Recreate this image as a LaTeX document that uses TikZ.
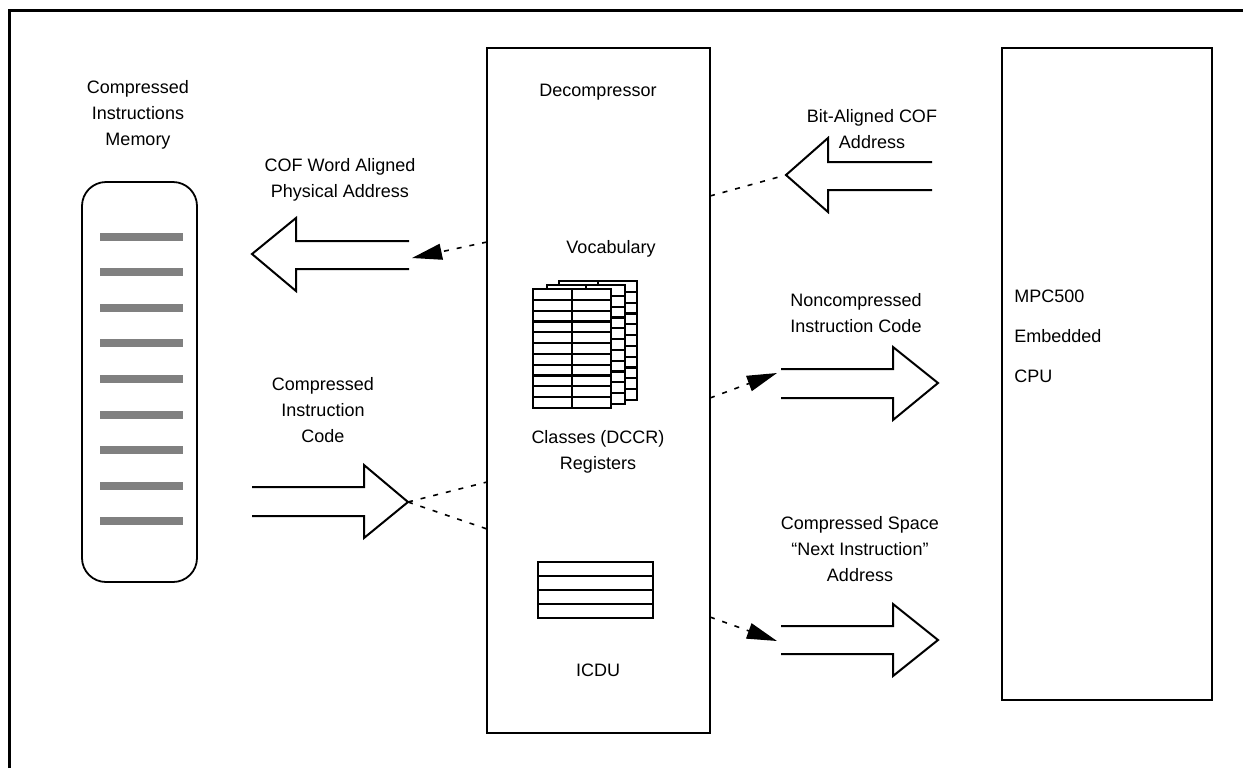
\documentclass[tikz,border=0pt]{standalone}
\usepackage{fontspec}
\setmainfont{Liberation Sans}
\usetikzlibrary{arrows.meta,fit}
\begin{document}
\begin{tikzpicture}[x=0.5pt,y=-0.5pt,
  lbl/.style={font=\fontsize{9}{13}\selectfont, align=center, inner sep=0pt},
  box/.style={draw, line width=0.9pt, inner sep=0pt},
  blockarrow/.style={draw, line width=1pt, line join=miter},
  dotcon/.style={line width=0.8pt, dash pattern=on 2.5pt off 4pt},
  tipped/.style={-{Triangle[length=15pt,width=8pt]}},
  sheet/.style={draw, fill=white, line width=1.1pt},
  bar/.style={fill=gray}]
\useasboundingbox (0,0) rectangle (1243,768);
% frame (top and left visible)
\draw[line width=1.6pt] (9.5,768) -- (9.5,10.5) -- (1243,10.5);

% memory
\node[box, rounded corners=12pt, fit={(82,182) (197,582)}] (mem) {};
\foreach \k in {0,...,8}{
  \fill[bar] (100,{232.5+35.6*\k}) rectangle (183,{240.5+35.6*\k});
}
\node[lbl] (memlbl) at (138,115) {Compressed\\Instructions\\Memory};

% decompressor
\node[box, fit={(487,48) (710,733)}] (dec) {};
\node[lbl] (declbl) at (598,92) {Decompressor};
\node[lbl] (voclbl) at (611,249) {Vocabulary};
\node[lbl] (clslbl) at (598,452) {Classes (DCCR)\\Registers};
\node[lbl] (icdulbl) at (598,670) {ICDU};

% vocabulary sheets
\foreach \sx/\sy in {559/281, 547/285, 533/289}{
  \draw[sheet] (\sx,\sy) rectangle ({\sx+78},{\sy+119});
  \foreach \r in {1,...,10}{
    \draw[line width=1.1pt] (\sx,{\sy+10.82*\r}) -- ({\sx+78},{\sy+10.82*\r});
  }
  \draw[line width=1.1pt] ({\sx+39},\sy) -- ({\sx+39},{\sy+119});
}

% ICDU table
\node[draw, line width=1.1pt, inner sep=0pt, fit={(538,562) (653,618)}] (icdu) {};
\foreach \r in {576,590,604}{
  \draw[line width=1.1pt] (538,\r) -- (653,\r);
}

% CPU
\node[box, fit={(1002,48) (1212,700)}] (cpu) {};
\node[lbl, align=left, anchor=west] (cpulbl) at (1014,336) {MPC500\\[7pt]Embedded\\[7pt]CPU};

% block arrows
\coordinate (a1) at (252,254);
\draw[blockarrow] (409,241) -- (296,241) -- (296,218) -- (a1) -- (296,291) -- (296,269) -- (409,269);
\node[lbl] (a1lbl) at (340,180) {COF Word Aligned\\Physical Address};

\coordinate (a2) at (408,502);
\draw[blockarrow] (252,487) -- (364,487) -- (364,465) -- (a2) -- (364,538) -- (364,516) -- (252,516);
\node[lbl] (a2lbl) at (323,410) {Compressed\\Instruction\\Code};

\coordinate (a3) at (786,175);
\draw[blockarrow] (932,162) -- (828,162) -- (828,138) -- (a3) -- (828,212) -- (828,190) -- (932,190);
\node[lbl] (a3lbl) at (872,129) {Bit-Aligned COF\\Address};

\coordinate (a4) at (781,383);
\draw[blockarrow] (781,369) -- (893,369) -- (893,347) -- (938,383) -- (893,420) -- (893,398) -- (781,398);
\node[lbl] (a4lbl) at (856,313) {Noncompressed\\Instruction Code};

\coordinate (a5) at (781,640);
\draw[blockarrow] (781,626) -- (893,626) -- (893,604) -- (938,640) -- (893,676) -- (893,654) -- (781,654);
\node[lbl] (a5lbl) at (860,549) {Compressed Space\\“Next Instruction”\\Address};

% dotted connectors
\coordinate (d1s) at (487,242);
\coordinate (d1e) at (412,258);
\draw[dotcon, tipped] (d1s) -- (d1e);
\coordinate (d2a) at (487,482);
\coordinate (d2b) at (487,529);
\draw[dotcon] (a2) -- (d2a);
\draw[dotcon] (a2) -- (d2b);
\coordinate (d3s) at (710,196);
\draw[dotcon] (d3s) -- (a3);
\coordinate (d4s) at (710,398);
\coordinate (d4e) at (777,373);
\draw[dotcon, tipped] (d4s) -- (d4e);
\coordinate (d5s) at (710,617);
\coordinate (d5e) at (777,641);
\draw[dotcon, tipped] (d5s) -- (d5e);
\end{tikzpicture}
\end{document}
